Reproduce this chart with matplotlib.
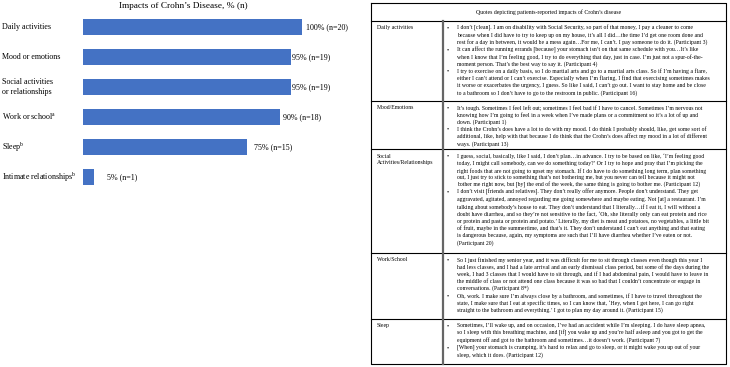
import matplotlib.pyplot as plt
from matplotlib.transforms import blended_transform_factory

plt.rcParams['font.family'] = 'Liberation Serif'
plt.rcParams['mathtext.fontset'] = 'custom'
plt.rcParams['mathtext.rm'] = 'Liberation Serif'

# bar chart data
categories = ['Daily activities', 'Mood or emotions', 'Social activities\nor relationships',
              r'Work or school$^{\mathrm{a}}$', r'Sleep$^{\mathrm{b}}$',
              r'Intimate relationships$^{\mathrm{b}}$']
percents = [100, 95, 95, 90, 75, 5]
counts = [20, 19, 19, 18, 15, 1]

# table data
header = "Quotes depicting patients-reported impacts of Crohn\u2019s disease"
row_labels = ['Daily activities', 'Mood/Emotions', 'Social\nActivities/Relationships',
              'Work/School', 'Sleep']
quotes = [
    [
        ["I don\u2019t [clean]. I am on disability with Social Security, so part of that money, I pay a cleaner to come",
         "because when I did have to try to keep up on my house, it\u2019s all I did\u2026the time I\u2019d get one room done and",
         "rest for a day in between, it would be a mess again\u2026For me, I can\u2019t. I pay someone to do it. (Participant 3)"],
        ["It can affect the running errands [because] your stomach isn\u2019t on that same schedule with you\u2026It\u2019s like",
         "when I know that I\u2019m feeling good, I try to do everything that day, just in case. I\u2019m just not a spur-of-the-",
         "moment person. That\u2019s the best way to say it. (Participant 4)"],
        ["I try to exercise on a daily basis, so I do martial arts and go to a martial arts class. So if I\u2019m having a flare,",
         "either I can\u2019t attend or I can\u2019t exercise. Especially when I\u2019m flaring, I find that exercising sometimes makes",
         "it worse or exacerbates the urgency, I guess. So like I said, I can\u2019t go out. I want to stay home and be close",
         "to a bathroom so I don\u2019t have to go to the restroom in public. (Participant 16)"],
    ],
    [
        ["It\u2019s tough. Sometimes I feel left out; sometimes I feel bad if I have to cancel. Sometimes I\u2019m nervous not",
         "knowing how I\u2019m going to feel in a week when I\u2019ve made plans or a commitment so it\u2019s a lot of up and",
         "down. (Participant 1)"],
        ["I think the Crohn\u2019s does have a lot to do with my mood. I do think I probably should, like, get some sort of",
         "additional, like, help with that because I do think that the Crohn\u2019s does affect my mood in a lot of different",
         "ways. (Participant 13)"],
    ],
    [
        ["I guess, social, basically, like I said, I don\u2019t plan\u2026in advance. I try to be based on like, \u2018I\u2019m feeling good",
         "today, I might call somebody, can we do something today?\u2019 Or I try to hope and pray that I\u2019m picking the",
         "right foods that are not going to upset my stomach. If I do have to do something long term, plan something",
         "out, I just try to stick to something that\u2019s not bothering me, but you never can tell because it might not",
         "bother me right now, but [by] the end of the week, the same thing is going to bother me. (Participant 12)"],
        ["I don\u2019t visit [friends and relatives]. They don\u2019t really offer anymore. People don\u2019t understand. They get",
         "aggravated, agitated, annoyed regarding me going somewhere and maybe eating. Not [at] a restaurant. I\u2019m",
         "talking about somebody\u2019s house to eat. They don\u2019t understand that I literally\u2026if I eat it, I will without a",
         "doubt have diarrhea, and so they\u2019re not sensitive to the fact, \u2018Oh, she literally only can eat protein and rice",
         "or protein and pasta or protein and potato.\u2019 Literally, my diet is meat and potatoes, no vegetables, a little bit",
         "of fruit, maybe in the summertime, and that\u2019s it. They don\u2019t understand I can\u2019t eat anything and that eating",
         "is dangerous because, again, my symptoms are such that I\u2019ll have diarrhea whether I\u2019ve eaten or not.",
         "(Participant 20)"],
    ],
    [
        ["So I just finished my senior year, and it was difficult for me to sit through classes even though this year I",
         "had less classes, and I had a late arrival and an early dismissal class period, but some of the days during the",
         "week, I had 3 classes that I would have to sit through, and if I had abdominal pain, I would have to leave in",
         "the middle of class or not attend one class because it was so bad that I couldn\u2019t concentrate or engage in",
         "conversations. (Participant 8*)"],
        ["Oh, work. I make sure I\u2019m always close by a bathroom, and sometimes, if I have to travel throughout the",
         "state, I make sure that I eat at specific times, so I can know that, \u2018Hey, when I get here, I can go right",
         "straight to the bathroom and everything.\u2019 I got to plan my day around it. (Participant 15)"],
    ],
    [
        ["Sometimes, I\u2019ll wake up, and on occasion, I\u2019ve had an accident while I\u2019m sleeping. I do have sleep apnea,",
         "so I sleep with this breathing machine, and [if] you wake up and you\u2019re half asleep and you got to get the",
         "equipment off and got to the bathroom and sometimes\u2026it doesn\u2019t work. (Participant 7)"],
        ["[When] your stomach is cramping, it\u2019s hard to relax and go to sleep, or it might wake you up out of your",
         "sleep, which it does. (Participant 12)"],
    ],
]

W, H = 730, 367
fig = plt.figure(figsize=(W / 100, H / 100), dpi=100)

# ---- bar chart (left) ----
bar_x0, bar_x1 = 83.3, 302.0   # pixel extent of 0..100
top_px, slot = 12, 30
ax = fig.add_axes([bar_x0 / W, 1 - (top_px + slot * len(categories)) / H,
                   (bar_x1 - bar_x0) / W, slot * len(categories) / H])
ypos = list(range(len(categories)))
ax.barh(ypos, percents, height=0.53, color='#4472C4')
ax.set_xlim(0, 100)
ax.set_ylim(len(categories) - 0.5, -0.5)
ax.axis('off')

label_gap = [3, 1, 1, 2, 5, 9]  # points, roughly as in the picture
for i, (p, n) in enumerate(zip(percents, counts)):
    ax.annotate(f'{p}% (n={n})', (p, i), xytext=(label_gap[i], 0), textcoords='offset points',
                ha='left', va='center', fontsize=5.8)

trans = blended_transform_factory(fig.transFigure, ax.transData)
for i, cat in enumerate(categories):
    ax.text(2 / W, i, cat, transform=trans, ha='left', va='center', fontsize=5.8,
            linespacing=1.45)

fig.text(183 / W, 1 - 6.5 / H, "Impacts of Crohn\u2019s Disease, % (n)", ha='center',
         va='center', fontsize=6.7)

# ---- quotes table (right) ----
tb = fig.add_axes([0, 0, 1, 1])
tb.set_xlim(0, W)
tb.set_ylim(H, 0)
tb.axis('off')

left, right, mid = 371, 726, 442.5
top, head_bot, bottom = 3, 21, 364
row_tops = [21, 100.7, 149.3, 252.7, 319]
step = 7.2
fs = 4.15

tb.plot([left, right, right, left, left], [top, top, bottom, bottom, top], color='black', lw=0.8)
for y in row_tops:
    tb.plot([left, right], [y, y], color='black', lw=0.8)
tb.plot([mid, mid], [head_bot, bottom], color='#666666', lw=1.6)

tb.text((left + right) / 2, (top + head_bot) / 2, header, ha='center', va='center', fontsize=fs)

for r, label in enumerate(row_labels):
    y = row_tops[r] + 7
    tb.text(377, y - 2.8, label, ha='left', va='top', fontsize=fs, linespacing=1.3)
    for bullet in quotes[r]:
        for k, line in enumerate(bullet):
            if k == 0:
                tb.text(447, y, '\u2022', ha='left', va='center', fontsize=fs)
            tb.text(457, y, line, ha='left', va='center', fontsize=fs)
            y += step

fig.savefig('out.png', dpi=100)
